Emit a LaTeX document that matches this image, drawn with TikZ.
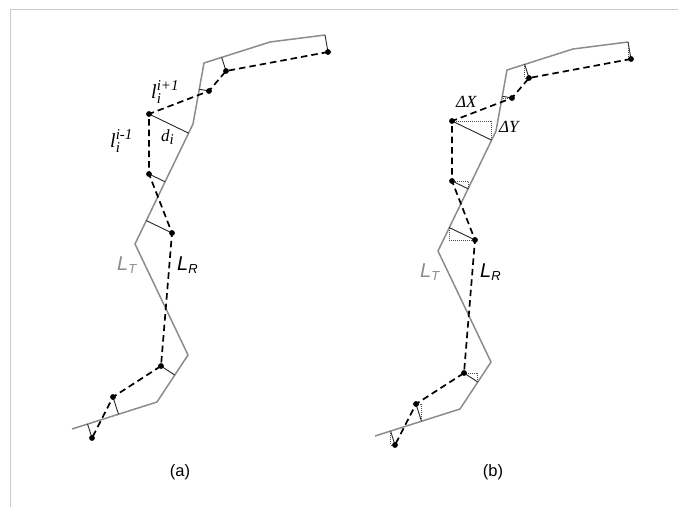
\documentclass[tikz,border=0pt]{standalone}
\usepackage{fontspec}
\usepackage{amsmath}
\setmainfont{Liberation Sans}
\newfontfamily\timesfont{Liberation Serif}
\usetikzlibrary{calc}

\begin{document}
\begin{tikzpicture}[x=1pt,y=-1pt]

	% Styles for the two panels
	\tikzset{
		track/.style={draw=trackgray, line width=1.5pt},
		route/.style={draw=black, line width=1.7pt, dash pattern=on 6.5pt off 4pt},
		offset/.style={draw=black!85, line width=0.9pt},
		legs/.style={draw=black!70, line width=0.7pt, dash pattern=on 1pt off 1pt},
		sym/.style={inner sep=0pt, anchor=base west, font=\timesfont\itshape\fontsize{20}{20}\selectfont},
		linelbl/.style={inner sep=0pt, anchor=base west, font=\itshape\fontsize{20}{20}\selectfont},
		panellbl/.style={inner sep=0pt, font=\fontsize{16.5}{16.5}\selectfont}
	}
	\definecolor{trackgray}{RGB}{140,140,140}
	\definecolor{framegray}{RGB}{200,200,200}
	% italic sub/superscript in the label font
	\def\ix#1{\text{\timesfont\itshape\fontsize{15}{15}\selectfont #1}}
	\def\sx#1{\text{\itshape\fontsize{13}{13}\selectfont #1}}

	\useasboundingbox (0,0) rectangle (678,507);
	% page frame, top and left
	\draw[framegray, line width=0.9pt] (10,507) -- (10,9) -- (678,9);

	% one panel: track L_T, route L_R and the offsets between them
	\def\drawpanel{
		% track points
		\coordinate (t1) at (325,35);
		\coordinate (t2) at (270,42);
		\coordinate (t3) at (204,63);
		\coordinate (t4) at (193,124);
		\coordinate (t5) at (135,244);
		\coordinate (t6) at (188,355);
		\coordinate (t7) at (157,402);
		\coordinate (t8) at (72,429);
		% route points
		\coordinate (d1) at (328,52);
		\coordinate (d2) at (226,71);
		\coordinate (d3) at (209,91);
		\coordinate (d4) at (149,114);
		\coordinate (d5) at (149,174);
		\coordinate (d6) at (172,233);
		\coordinate (d7) at (161,366);
		\coordinate (d8) at (113,397);
		\coordinate (d9) at (92,438);
		% feet of the offsets on the track
		\coordinate (f1) at (t1);
		\coordinate (f2) at ($(t2)!(d2)!(t3)$);
		\coordinate (f3) at ($(t3)!(d3)!(t4)$);
		\coordinate (f4) at ($(t4)!(d4)!(t5)$);
		\coordinate (f5) at ($(t4)!(d5)!(t5)$);
		\coordinate (f6) at ($(t4)!(d6)!(t5)$);
		\coordinate (f7) at ($(t6)!(d7)!(t7)$);
		\coordinate (f8) at ($(t7)!(d8)!(t8)$);
		\coordinate (f9) at ($(t7)!(d9)!(t8)$);

		\draw[track] (t1) -- (t2) -- (t3) -- (t4) -- (t5) -- (t6) -- (t7) -- (t8);
		\foreach \k in {1,...,9}
			\draw[offset] (d\k) -- (f\k);
	}

	% route on top of everything
	\def\drawroute{
		\draw[route] (d1) -- (d2) -- (d3) -- (d4) -- (d5) -- (d6) -- (d7) -- (d8) -- (d9);
		\foreach \k in {1,...,9}
			\fill[black] (d\k) circle (2.9pt);
	}

	%%%% panel (a)
	\begin{scope}
		\drawpanel
		\drawroute
		\node[sym] (lnext) at (151,98) {l$_{\ix{i}}^{\ix{i+1}}$};
		\node[sym] (lprev) at (110,147) {l$_{\ix{i}}^{\ix{i-1}}$};
		\node[sym, font=\timesfont\itshape\fontsize{17}{17}\selectfont] (dist) at (161,141) {d$_{\ix{i}}$};
		\node[linelbl, text=trackgray] (ltrack) at (117,270) {L$_{\sx{T}}$};
		\node[linelbl] (lroute) at (177,270) {L$_{\sx{R}}$};
	\end{scope}
	\node[panellbl] (capa) at (180,472) {(a)};

	%%%% panel (b)
	\begin{scope}[shift={(303,7)}]
		\drawpanel
		% dotted legs dX, dY
		\foreach \k in {1,...,9}
			\draw[legs] (f\k) -- (f\k |- d\k) -- (d\k);
		\drawroute
		\node[linelbl, text=trackgray] (ltrackb) at (117,270) {L$_{\sx{T}}$};
		\node[linelbl] (lrouteb) at (177,270) {L$_{\sx{R}}$};
	\end{scope}
	\node[sym, font=\timesfont\itshape\fontsize{17}{17}\selectfont] (dx) at (456,107) {ΔX};
	\node[sym, font=\timesfont\itshape\fontsize{17}{17}\selectfont] (dy) at (499,132) {ΔY};
	\node[panellbl] (capb) at (493,472) {(b)};

\end{tikzpicture}
\end{document}
